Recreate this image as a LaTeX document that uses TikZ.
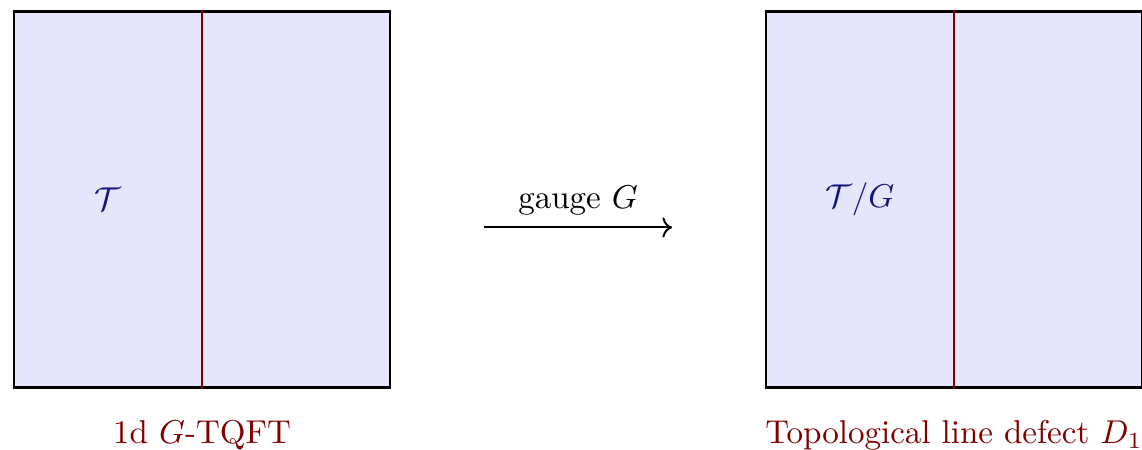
\documentclass[tikz,border=0pt]{standalone}
\usepackage{amsmath, amssymb}
\usepackage{tikz}
\usetikzlibrary{arrows.meta, positioning}
\definecolor{mDefect}{HTML}{800000}
\definecolor{mFill}{HTML}{E5E5FC}
\definecolor{mNavy}{HTML}{14147F}

\begin{document}
\begin{tikzpicture}[
      panel/.style={draw, thick, fill=mFill, minimum size=4cm, inner sep=0pt},
      defect/.style={mDefect, thick},
      theory/.style={text=mNavy},
      caption/.style={text=mDefect, anchor=base}]
    % frame of the picture
    \useasboundingbox (-0.15,-0.66) rectangle (12,4.12);
    \clip (-0.15,-0.66) rectangle (12,4.12);
    % the two panels with their defect lines
    \foreach \x/\nm in {0/L, 8/R} {
      \node[panel] (panel\nm) at (\x+2, 2) {};
      \draw[defect] (panel\nm.north) -- (panel\nm.south);
    }
    % theories
    \node[theory] (thyL) at (1, 2) {$\mathcal{T}$};
    \node[theory] (thyR) at (9, 2) {$\mathcal{T}/G$};
    % gauging arrow
    \coordinate (gaugeA) at (5, 1.7);
    \coordinate (gaugeB) at (7, 1.7);
    \draw[semithick, ->] (gaugeA) -- node[above] (gaugeLab) {gauge $G$} (gaugeB);
    % captions
    \node[caption] (capL) at (2, -0.6) {1d $G$-TQFT};
    \node[caption] (capR) at (10, -0.6) {Topological line defect $D_1$};
  \end{tikzpicture}
\end{document}
